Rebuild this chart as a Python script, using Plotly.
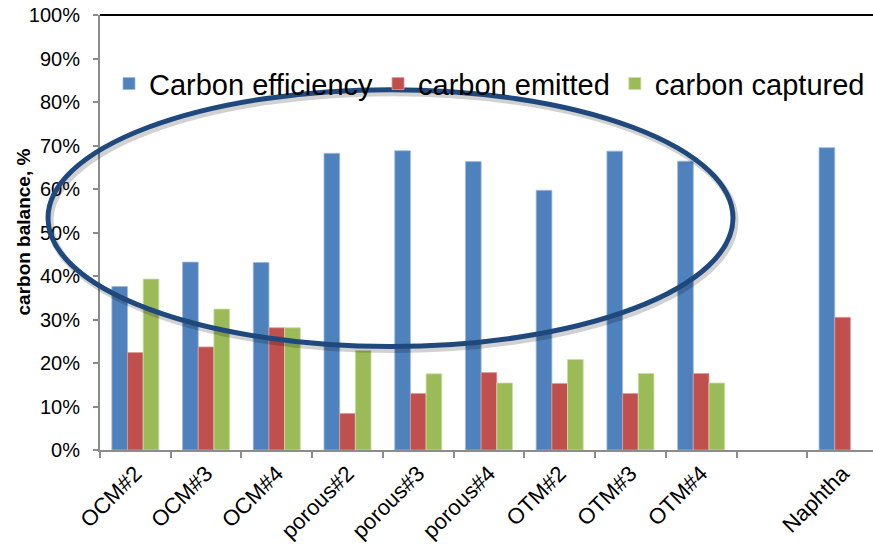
import plotly.graph_objects as go

# Carbon balance per membrane configuration (values in %)
categories = ["OCM#2", "OCM#3", "OCM#4", "porous#2", "porous#3", "porous#4",
              "OTM#2", "OTM#3", "OTM#4", " ", "Naphtha"]
carbon_efficiency = [37.6, 43.2, 43.1, 68.2, 68.8, 66.3, 59.7, 68.7, 66.4, None, 69.5]
carbon_emitted = [22.4, 23.7, 28.1, 8.4, 13.0, 17.8, 15.3, 13.0, 17.6, None, 30.5]
carbon_captured = [39.3, 32.4, 28.1, 22.9, 17.5, 15.4, 20.8, 17.6, 15.4, None, None]

y_ticks = list(range(0, 101, 10))
y_tick_labels = [f"{v}%" for v in y_ticks]

series = [
    ("Carbon efficiency", carbon_efficiency, "#4F81BD", "#9DB9DD"),
    ("carbon emitted", carbon_emitted, "#C0504D", "#E09A98"),
    ("carbon captured", carbon_captured, "#9BBB59", "#CBDDA6"),
]

FONT = "Liberation Sans, Arial, sans-serif"

fig = go.Figure()
for name, vals, color, edge in series:
    fig.add_trace(go.Bar(
        name=name, x=categories, y=vals,
        marker=dict(color=color, line=dict(color=edge, width=0.8)),
    ))

# Plot area geometry in pixels (used to place the highlight ellipse and legend)
W, H = 873, 544
ML, MT, MB, MR = 100, 15, 92, 0
pw, ph = W - ML - MR, H - MT - MB

def px_x(x):
    return (x - ML) / pw

def px_y(y):
    return (H - MB - y) / ph

ell = dict(x0=px_x(48), x1=px_x(733), y0=px_y(348), y1=px_y(90))
shapes = [
    # soft drop shadow under the ellipse
    dict(type="circle", xref="paper", yref="paper",
         x0=ell["x0"] + 2 / pw, x1=ell["x1"] + 2 / pw,
         y0=ell["y0"] - 3 / ph, y1=ell["y1"] - 3 / ph,
         line=dict(color="rgba(0,0,0,0.18)", width=7), layer="above"),
    dict(type="circle", xref="paper", yref="paper", **ell,
         line=dict(color="#1F497D", width=5), layer="above"),
    # black top border of the plot area
    dict(type="line", xref="paper", yref="paper", x0=0, x1=1, y0=1, y1=1,
         line=dict(color="black", width=2)),
]

# y-axis title, placed as a rotated annotation next to the tick labels
annotations = [
    dict(text="<b>carbon balance, %</b>", xref="paper", yref="paper",
         x=px_x(23), y=0.5, xanchor="center", yanchor="middle",
         textangle=-90, showarrow=False,
         font=dict(size=19, family=FONT, color="black")),
]

fig.update_layout(
    width=W, height=H,
    margin=dict(l=ML, r=MR, t=MT, b=MB, pad=0),
    paper_bgcolor="white", plot_bgcolor="white",
    barmode="group", bargap=0.335, bargroupgap=0,
    font=dict(family=FONT, color="black"),
    showlegend=True,
    legend=dict(orientation="h", x=px_x(109), xanchor="left", y=px_y(84), yanchor="middle",
                font=dict(size=29, family=FONT, color="black"),
                bgcolor="rgba(0,0,0,0)", itemclick=False, traceorder="normal"),
    shapes=shapes,
    annotations=annotations,
    xaxis=dict(
        type="category", range=[-0.5, 10.43],
        showline=True, linecolor="#8C8C8C", linewidth=2,
        ticks="outside", tickson="boundaries", ticklen=6, tickcolor="#8C8C8C", tickwidth=2,
        tickangle=-45, tickfont=dict(size=22, family=FONT, color="black"),
        showgrid=False, zeroline=False,
    ),
    yaxis=dict(
        range=[0, 100], tickvals=y_ticks, ticktext=y_tick_labels,
        showline=True, linecolor="#8C8C8C", linewidth=2,
        ticks="outside", ticklen=5, tickcolor="#8C8C8C", tickwidth=2,
        ticklabelstandoff=9,
        tickfont=dict(size=20, family=FONT, color="black"),
        showgrid=False, zeroline=False,
    ),
)

fig.write_html("out.html")
